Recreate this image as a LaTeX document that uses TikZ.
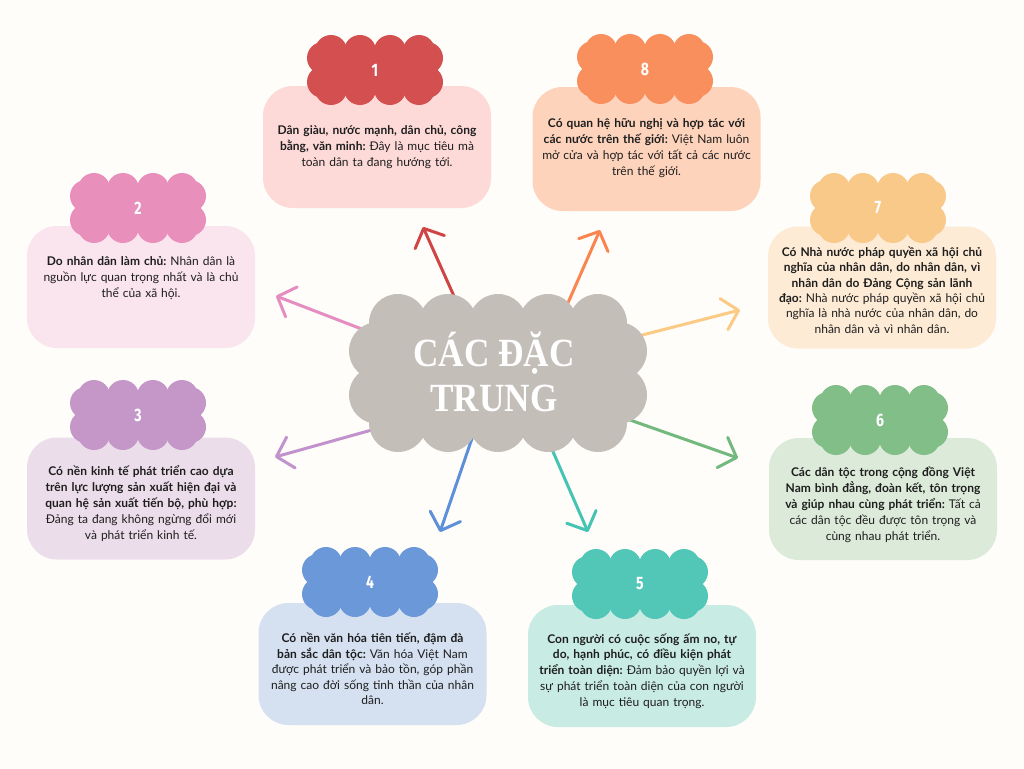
\documentclass[tikz,border=0pt]{standalone}
\usepackage{fontspec}
\setmainfont{Lato}
\newfontfamily\titlefont[FakeStretch=0.88]{Liberation Serif}
\newfontfamily\numfont[FakeStretch=0.78]{Fira Sans}
\usetikzlibrary{arrows.meta}
\pgfdeclarelayer{bg}
\pgfdeclarelayer{arrowlayer}
\pgfsetlayers{bg,arrowlayer,main}
\frenchspacing
\definecolor{bgcol}{HTML}{FEFDF9}
\definecolor{txtcol}{HTML}{1E1E1E}
\definecolor{cloudgrey}{HTML}{C4BEB9}
% badges
\definecolor{bdA}{HTML}{D45050}
\definecolor{bdB}{HTML}{E890BB}
\definecolor{bdC}{HTML}{C497C8}
\definecolor{bdD}{HTML}{6B98D8}
\definecolor{bdE}{HTML}{52C7B8}
\definecolor{bdF}{HTML}{82BE88}
\definecolor{bdG}{HTML}{F9C98A}
\definecolor{bdH}{HTML}{FA8F5E}
% cards
\definecolor{cdA}{HTML}{FDD9D8}
\definecolor{cdB}{HTML}{FAE4EE}
\definecolor{cdC}{HTML}{ECDDEA}
\definecolor{cdD}{HTML}{D5E0F0}
\definecolor{cdE}{HTML}{C8EBE3}
\definecolor{cdF}{HTML}{DCEAD9}
\definecolor{cdG}{HTML}{FDEBD5}
\definecolor{cdH}{HTML}{FDD3BC}
% arrows
\definecolor{arA}{HTML}{CF4545}
\definecolor{arB}{HTML}{E58CC0}
\definecolor{arC}{HTML}{C292CD}
\definecolor{arD}{HTML}{5E8FD9}
\definecolor{arE}{HTML}{45C3B3}
\definecolor{arF}{HTML}{73B87D}
\definecolor{arG}{HTML}{FBCB85}
\definecolor{arH}{HTML}{FA8550}

\newcommand\mybadge[5]{%
  \fill[#4] (#2-52,#3-21) rectangle (#2+52,#3+21);
  \foreach \dx in {-44,-15,15,44}{%
    \fill[#4] (#2+\dx,#3-19) circle[radius=16pt];
    \fill[#4] (#2+\dx,#3+19) circle[radius=16pt];}
  \foreach \dy in {-12,12}{%
    \fill[#4] (#2-52,#3+\dy) circle[radius=16pt];
    \fill[#4] (#2+52,#3+\dy) circle[radius=16pt];}
  \node[num] (#1) at (#2,#3) {#5};
}

\begin{document}
\begin{tikzpicture}[x=1pt,y=-1pt,
  card/.style={rounded corners=30pt, minimum width=228pt, minimum height=122pt, inner sep=0pt},
  body/.style={text=txtcol, align=center, text width=226pt, inner sep=0pt, font=\fontsize{12}{16}\selectfont},
  num/.style={text=white, font=\numfont\bfseries\fontsize{18}{18}\selectfont, inner sep=0pt},
  title/.style={text=white, align=center, font=\titlefont\bfseries\fontsize{40}{45}\selectfont, inner sep=0pt},
  arr/.style={line width=3pt, line cap=round, -{Straight Barb[length=15pt,width=32pt,round]}}
]
\begin{pgfonlayer}{bg}
\fill[bgcol] (0,0) rectangle (1024,768);
\end{pgfonlayer}
\useasboundingbox (0,0) rectangle (1024,768);

% cards
\node[card, fill=cdA] (c1) at (377,147) {};
\node[card, fill=cdH, minimum height=124pt] (c8) at (646.5,149) {};
\node[card, fill=cdB] (c2) at (141,287) {};
\node[card, fill=cdG] (c7) at (882,287.5) {};
\node[card, fill=cdC] (c3) at (141,498.5) {};
\node[card, fill=cdF] (c6) at (883,499) {};
\node[card, fill=cdD] (c4) at (372.5,664) {};
\node[card, fill=cdE] (c5) at (642,666) {};

% badges
\mybadge{n1}{375}{70}{bdA}{1}
\mybadge{n8}{645}{69}{bdH}{8}
\mybadge{n2}{138}{208}{bdB}{2}
\mybadge{n7}{878}{208}{bdG}{7}
\mybadge{n3}{138}{415}{bdC}{3}
\mybadge{n6}{880}{420}{bdF}{6}
\mybadge{n4}{370}{582}{bdD}{4}
\mybadge{n5}{640}{584}{bdE}{5}

% texts
\node[body] (t1) at (377,147) {\textbf{Dân giàu, nước mạnh, dân chủ, công}\\ \textbf{bằng, văn minh:} Đây là mục tiêu mà\\ toàn dân ta đang hướng tới.};
\node[body] (t8) at (646.5,148) {\textbf{Có quan hệ hữu nghị và hợp tác với}\\ \textbf{các nước trên thế giới:} Việt Nam luôn\\ mở cửa và hợp tác với tất cả các nước\\ trên thế giới.};
\node[body] (t2) at (141,278) {\textbf{Do nhân dân làm chủ:} Nhân dân là\\ nguồn lực quan trọng nhất và là chủ\\ thể của xã hội.};
\node[body, font=\fontsize{12}{15.4}\selectfont] (t7) at (882,290) {\textbf{Có Nhà nước pháp quyền xã hội chủ}\\ \textbf{nghĩa của nhân dân, do nhân dân, vì}\\ \textbf{nhân dân do Đảng Cộng sản lãnh}\\ \textbf{đạo:} Nhà nước pháp quyền xã hội chủ\\ nghĩa là nhà nước của nhân dân, do\\ nhân dân và vì nhân dân.};
\node[body] (t3) at (141,504) {\textbf{Có nền kinh tế phát triển cao dựa}\\ \textbf{trên lực lượng sản xuất hiện đại và}\\ \textbf{quan hệ sản xuất tiến bộ, phù hợp:}\\ Đảng ta đang không ngừng đổi mới\\ và phát triển kinh tế.};
\node[body] (t6) at (883,505) {\textbf{Các dân tộc trong cộng đồng Việt}\\ \textbf{Nam bình đẳng, đoàn kết, tôn trọng}\\ \textbf{và giúp nhau cùng phát triển:} Tất cả\\ các dân tộc đều được tôn trọng và\\ cùng nhau phát triển.};
\node[body, font=\fontsize{12}{15.6}\selectfont] (t4) at (372.5,669) {\textbf{Có nền văn hóa tiên tiến, đậm đà}\\ \textbf{bản sắc dân tộc:} Văn hóa Việt Nam\\ được phát triển và bảo tồn, góp phần\\ nâng cao đời sống tinh thần của nhân\\ dân.};
\node[body, font=\fontsize{12}{15.8}\selectfont] (t5) at (642,671) {\textbf{Con người có cuộc sống ấm no, tự}\\ \textbf{do, hạnh phúc, có điều kiện phát}\\ \textbf{triển toàn diện:} Đảm bảo quyền lợi và\\ sự phát triển toàn diện của con người\\ là mục tiêu quan trọng.};

% central cloud
\def\cx{498}\def\cy{373}
\fill[cloudgrey] (\cx-120,\cy-50) rectangle (\cx+120,\cy+50);
\foreach \dx in {-100,-50,0,50,100}{%
  \fill[cloudgrey] (\cx+\dx,\cy-50) circle[radius=29pt];
  \fill[cloudgrey] (\cx+\dx,\cy+50) circle[radius=29pt];}
\foreach \dy in {-22,22}{%
  \fill[cloudgrey] (\cx-120,\cy+\dy) circle[radius=29pt];
  \fill[cloudgrey] (\cx+120,\cy+\dy) circle[radius=29pt];}
\node[title] (ctr) at (494,372) {CÁC ĐẶC\\TRUNG};

% arrows
\coordinate (s1) at (462,314); \coordinate (e1) at (423,227);
\coordinate (s8) at (560,321); \coordinate (e8) at (600,230);
\coordinate (s2) at (385,338); \coordinate (e2) at (276,296);
\coordinate (s7) at (615,342); \coordinate (e7) at (740,310);
\coordinate (s3) at (404,421); \coordinate (e3) at (275,457);
\coordinate (s6) at (593,407); \coordinate (e6) at (738,458);
\coordinate (s4) at (481,412); \coordinate (e4) at (440,532);
\coordinate (s5) at (544,431); \coordinate (e5) at (588,532);
\begin{pgfonlayer}{arrowlayer}
\draw[arr, arA] (s1) -- (e1);
\draw[arr, arH] (s8) -- (e8);
\draw[arr, arB] (s2) -- (e2);
\draw[arr, arG] (s7) -- (e7);
\draw[arr, arC] (s3) -- (e3);
\draw[arr, arF] (s6) -- (e6);
\draw[arr, arD] (s4) -- (e4);
\draw[arr, arE] (s5) -- (e5);
\end{pgfonlayer}
\end{tikzpicture}
\end{document}
